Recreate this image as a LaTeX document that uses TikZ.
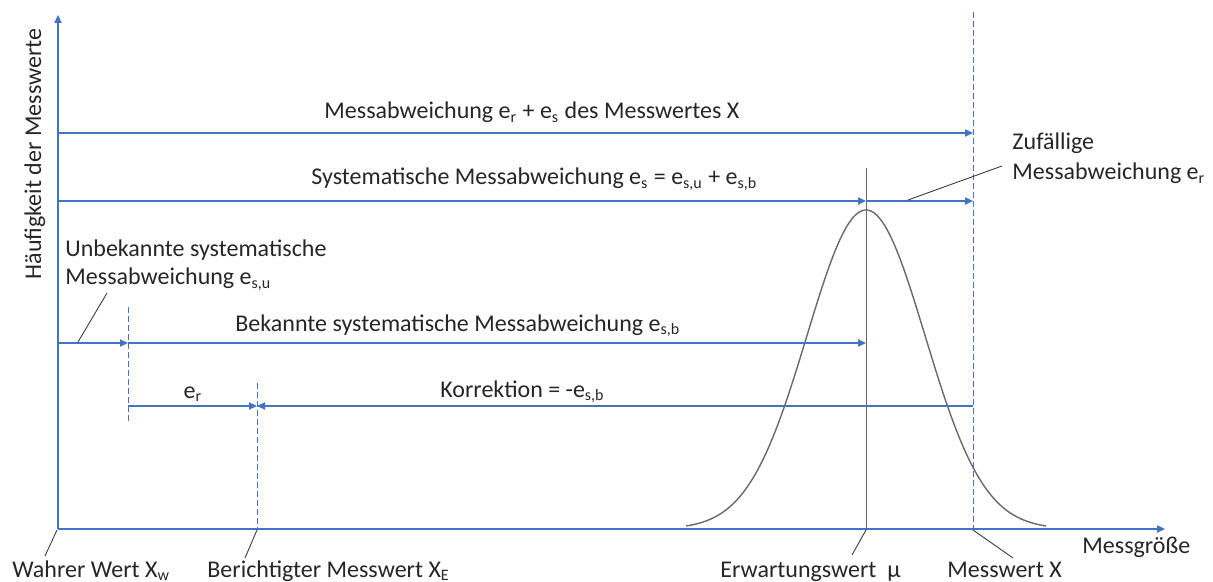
\documentclass[tikz,border=0pt]{standalone}
\usepackage{fontspec}
\setmainfont{Carlito}
\usetikzlibrary{arrows.meta}
\definecolor{axblue}{RGB}{68,114,196}
\definecolor{curvegray}{RGB}{105,105,105}
\definecolor{leadgray}{RGB}{60,60,60}
\newcommand\sbs[1]{\textsubscript{#1}}
\tikzset{
  blueline/.style={draw=axblue, line width=0.65pt},
  barrow/.style={blueline, -{Triangle[length=4pt,width=3.6pt]}},
  vdash/.style={draw=axblue, line width=0.5pt, dash pattern=on 3pt off 1.5pt},
  leader/.style={draw=leadgray, line width=0.45pt},
  lbl/.style={font=\fontsize{12}{14}\selectfont, inner sep=0pt, anchor=base west, text=black!85},
}
\begin{document}
\begin{tikzpicture}[x=0.5pt,y=-0.5pt]
\useasboundingbox (0,0) rectangle (1213,582);
% key points
\coordinate (O) at (58,529);
\coordinate (Ytop) at (58,15);
\coordinate (Xend) at (1165,529);
\coordinate (Xtop) at (973,12);
\coordinate (Xbot) at (973,529);
\coordinate (Mtop) at (866,168);
\coordinate (Mbot) at (866,529);
\coordinate (A1s) at (58,133);
\coordinate (A1e) at (973,133);
\coordinate (A2s) at (58,201);
\coordinate (A2m) at (866,201);
\coordinate (A2e) at (973,201);
\coordinate (A3s) at (58,343);
\coordinate (A3m) at (128,343);
\coordinate (A3e) at (866,343);
\coordinate (D1t) at (128,307);
\coordinate (D1b) at (128,423);
\coordinate (A4s) at (128,406);
\coordinate (A4m) at (257,406);
\coordinate (A4e) at (973,406);
\coordinate (D2t) at (257,383);
\coordinate (D2b) at (257,529);
% axes
\draw[barrow] (O) -- (Ytop);
\draw[barrow] (O) -- (Xend);
% dashed verticals
\draw[vdash] (Xtop) -- (Xbot);
\draw[vdash] (D1t) -- (D1b);
\draw[vdash] (D2t) -- (D2b);
% expectation line
\draw[draw=curvegray, line width=0.5pt] (Mtop) -- (Mbot);
% gaussian
\draw[draw=curvegray, line width=0.7pt] plot[domain=-3.05:3.05, samples=120, smooth] ({866+59*\x},{529-319*exp(-\x*\x/2)});
% arrows
\draw[barrow] (A1s) -- (A1e);
\draw[barrow] (A2s) -- (A2m);
\draw[barrow] (A2m) -- (A2e);
\draw[barrow] (A3s) -- (A3m);
\draw[barrow] (A3m) -- (A3e);
\draw[barrow] (A4s) -- (A4m);
\draw[barrow] (A4e) -- (A4m);
% labels
\node[lbl] (t1) at (324,119) {Messabweichung e\sbs{r} + e\sbs{s} des Messwertes X};
\node[lbl] (t2) at (311,185) {Systematische Messabweichung e\sbs{s} = e\sbs{s,u} + e\sbs{s,b}};
\node[lbl] (t3a) at (65,257) {Unbekannte systematische};
\node[lbl] (t3b) at (65,285) {Messabweichung e\sbs{s,u}};
\node[lbl] (t4) at (235,331) {Bekannte systematische Messabweichung e\sbs{s,b}};
\node[lbl, anchor=base] (t5) at (193,398) {e\sbs{r}};
\node[lbl] (t6) at (440,397) {Korrektion = -e\sbs{s,b}};
\node[lbl] (t7a) at (1012,150) {Zufällige};
\node[lbl] (t7b) at (1012,180) {Messabweichung e\sbs{r}};
\node[lbl] (b1) at (12,577) {Wahrer Wert X\sbs{w}};
\node[lbl] (b2) at (207,577) {Berichtigter Messwert X\sbs{E}};
\node[lbl] (b3) at (720,577) {Erwartungswert \ μ};
\node[lbl] (b4) at (947,577) {Messwert X};
\node[lbl] (b5) at (1082,553) {Messgröße};
\node[lbl, anchor=base, rotate=90] (yl) at (41,154) {Häufigkeit der Messwerte};
% leader lines
\coordinate (L1a) at (107,293); \coordinate (L1b) at (78,342);
\coordinate (L2a) at (1002,166); \coordinate (L2b) at (908,200);
\coordinate (L3a) at (57,530); \coordinate (L3b) at (45,556);
\coordinate (L4a) at (257,530); \coordinate (L4b) at (245,558);
\coordinate (L5a) at (866,530); \coordinate (L5b) at (852,555);
\coordinate (L6a) at (973,530); \coordinate (L6b) at (1013,558);
\draw[leader] (L1a) -- (L1b);
\draw[leader] (L2a) -- (L2b);
\draw[leader] (L3a) -- (L3b);
\draw[leader] (L4a) -- (L4b);
\draw[leader] (L5a) -- (L5b);
\draw[leader] (L6a) -- (L6b);
\end{tikzpicture}
\end{document}
